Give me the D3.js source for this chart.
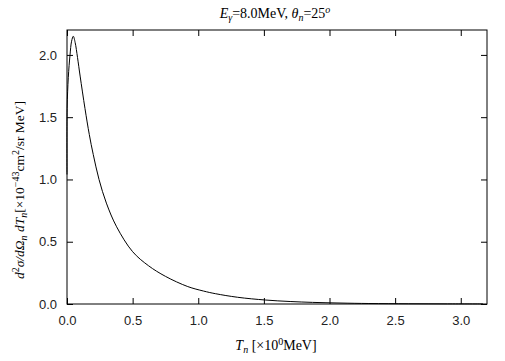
<!DOCTYPE html>
<html><head><meta charset="utf-8">
<script src="https://cdn.jsdelivr.net/npm/d3@7"></script>
<style>body{margin:0;background:#fff}</style>
</head><body>
<svg id="c" width="505" height="361"></svg>
<script>
const tn = [0, 0.001, 0.01, 0.023, 0.035, 0.048, 0.062, 0.08, 0.1, 0.137, 0.17, 0.2, 0.244, 0.3, 0.378, 0.5, 0.62, 0.75, 0.92, 1.04, 1.13, 1.3, 1.51, 1.7, 1.87, 2.08, 2.3, 2.6, 2.9, 3.17];
const sigma = [1.04, 1.57, 1.82, 2.0, 2.11, 2.15, 2.1, 1.98, 1.83, 1.57, 1.36, 1.2, 1.0, 0.81, 0.62, 0.42, 0.308, 0.222, 0.14, 0.104, 0.083, 0.054, 0.032, 0.020, 0.013, 0.0077, 0.004, 0.002, 0.001, 0.0005];
const xTicks = [0, 0.5, 1.0, 1.5, 2.0, 2.5, 3.0];
const yTicks = [0, 0.5, 1.0, 1.5, 2.0];

const svg = d3.select("#c");
const L = 67, R = 487, T = 30, B = 304;
const x = d3.scaleLinear().domain([0, 3.2]).range([L, R]);
const y = d3.scaleLinear().domain([0, 2.2]).range([B, T]);

const tl = 6;
const gx = svg.append("g").attr("transform", `translate(0,${B})`)
  .call(d3.axisBottom(x).tickValues(xTicks).tickFormat(d3.format(".1f")).tickSizeInner(-tl).tickSizeOuter(0).tickPadding(12));
const gxt = svg.append("g").attr("transform", `translate(0,${T})`)
  .call(d3.axisTop(x).tickValues(xTicks).tickFormat("").tickSizeInner(-tl).tickSizeOuter(0));
const gy = svg.append("g").attr("transform", `translate(${L},0)`)
  .call(d3.axisLeft(y).tickValues(yTicks).tickFormat(d3.format(".1f")).tickSizeInner(-tl).tickSizeOuter(0).tickPadding(10));
const gyr = svg.append("g").attr("transform", `translate(${R},0)`)
  .call(d3.axisRight(y).tickValues(yTicks).tickFormat("").tickSizeInner(-tl).tickSizeOuter(0));
[gx, gxt, gy, gyr].forEach(g => {
  g.select(".domain").remove();
  g.selectAll("line").attr("stroke", "#000");
  g.selectAll("text").attr("font-family", "'Liberation Sans', Arial, sans-serif").attr("font-size", 13).attr("fill", "#222");
});

svg.append("rect").attr("x", L).attr("y", T).attr("width", R - L).attr("height", B - T)
  .attr("fill", "none").attr("stroke", "#000").attr("stroke-width", 1);

const line = d3.line().x((d, i) => x(tn[i])).y(d => y(d)).curve(d3.curveCatmullRom.alpha(0.5));
svg.append("path").attr("d", line(sigma)).attr("fill", "none").attr("stroke", "#000").attr("stroke-width", 1);

function rich(sel, parts) {
  parts.forEach(p => {
    const t = sel.append("tspan").text(p.t);
    if (p.i) t.attr("font-style", "italic");
    if (p.s) t.attr("font-size", 10);
    if (p.s === "sup") t.attr("baseline-shift", 5);
    if (p.s === "sub") t.attr("baseline-shift", -3);
  });
}
const serif = "'Liberation Serif', 'Times New Roman', serif";

const title = svg.append("text").attr("x", 275).attr("y", 18).attr("text-anchor", "middle")
  .attr("font-family", serif).attr("font-size", 14).attr("fill", "#000");
rich(title, [{t:"E", i:1},{t:"γ", s:"sub", i:1},{t:"=8.0MeV,  "},{t:"θ", i:1},{t:"n", s:"sub", i:1},{t:"=25"},{t:"o", s:"sup", i:1}]);

const xl = svg.append("text").attr("x", 276).attr("y", 350).attr("text-anchor", "middle")
  .attr("font-family", serif).attr("font-size", 14).attr("fill", "#000");
rich(xl, [{t:"T", i:1},{t:"n", s:"sub", i:1},{t:" [×10"},{t:"0", s:"sup"},{t:"MeV]"}]);

const yl = svg.append("text").attr("transform", "translate(24,190) rotate(-90)").attr("text-anchor", "middle")
  .attr("font-family", serif).attr("font-size", 13.5).attr("fill", "#000");
rich(yl, [{t:"d", i:1},{t:"2", s:"sup"},{t:"σ/d", i:1},{t:"Ω", i:1},{t:"n", s:"sub", i:1},{t:"  dT", i:1},{t:"n", s:"sub", i:1},{t:"[×10"},{t:"−43", s:"sup"},{t:"cm"},{t:"2", s:"sup"},{t:"/sr MeV]"}]);
</script>
</body></html>
